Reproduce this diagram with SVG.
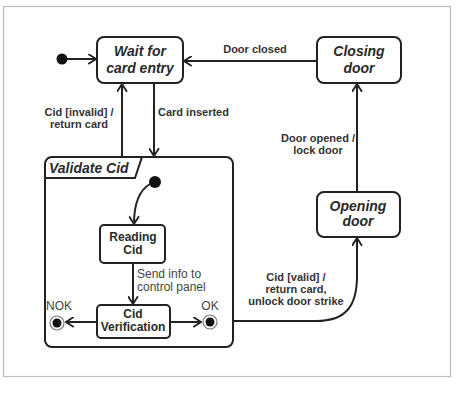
<svg xmlns="http://www.w3.org/2000/svg" width="457" height="400" viewBox="0 0 457 400">
<defs>
<style>
.box{fill:#fff;stroke:#222;stroke-width:2}
.conn{fill:none;stroke:#222;stroke-width:2}
.title{font-family:"Liberation Sans",Arial,sans-serif;font-size:14px;font-weight:bold;font-style:italic;fill:#2a2a2a;text-anchor:middle}
.title-left{font-family:"Liberation Sans",Arial,sans-serif;font-size:14px;font-weight:bold;font-style:italic;fill:#2a2a2a;text-anchor:start}
.state{font-family:"Liberation Sans",Arial,sans-serif;font-size:12px;font-weight:bold;fill:#2a2a2a;text-anchor:middle}
.lbl{font-family:"Liberation Sans",Arial,sans-serif;font-size:11px;font-weight:bold;fill:#333}
.note{font-family:"Liberation Sans",Arial,sans-serif;font-size:12px;fill:#444}
</style>
<marker id="arr" viewBox="0 0 10 10" refX="9" refY="5" markerWidth="11" markerHeight="11" markerUnits="userSpaceOnUse" orient="auto">
<path d="M2,0.5 L9,5 L2,9.5" fill="none" stroke="#222" stroke-width="1.7"/>
</marker>
</defs>
<rect x="0" y="0" width="457" height="400" fill="#fff"/>
<rect x="3.5" y="6.5" width="447" height="370" fill="#fff" stroke="#bbb" stroke-width="1.2"/>

<g id="connectors">
<line class="conn" x1="66" y1="59" x2="96" y2="59" marker-end="url(#arr)"/>
<line class="conn" x1="317" y1="61" x2="184" y2="61" marker-end="url(#arr)"/>
<line class="conn" x1="154" y1="83" x2="154" y2="156" marker-end="url(#arr)"/>
<line class="conn" x1="122" y1="157" x2="122" y2="84" marker-end="url(#arr)"/>
<line class="conn" x1="357" y1="192" x2="357" y2="84" marker-end="url(#arr)"/>
<path class="conn" d="M232,321 L316,321 C346,321 357,306 357,276 L357,238" marker-end="url(#arr)"/>
<path class="conn" d="M150,184 C138,191 134,205 134,224" marker-end="url(#arr)"/>
<line class="conn" x1="133" y1="263" x2="133" y2="304" marker-end="url(#arr)"/>
<line class="conn" x1="97" y1="322" x2="66" y2="322" marker-end="url(#arr)"/>
<line class="conn" x1="170" y1="322" x2="201" y2="322" marker-end="url(#arr)"/>
</g>

<g id="labels">
<text class="lbl" x="255" y="53" text-anchor="middle">Door closed</text>
<text class="lbl" x="79" y="116" text-anchor="middle">Cid [invalid] /</text>
<text class="lbl" x="79" y="128" text-anchor="middle">return card</text>
<text class="lbl" x="158" y="116">Card inserted</text>
<text class="lbl" x="318" y="142" text-anchor="middle">Door opened /</text>
<text class="lbl" x="318" y="154" text-anchor="middle">lock door</text>
<text class="lbl" x="296" y="281" text-anchor="middle">Cid [valid] /</text>
<text class="lbl" x="296" y="293" text-anchor="middle">return card,</text>
<text class="lbl" x="296" y="305" text-anchor="middle">unlock door strike</text>
<text class="note" x="137" y="278">Send info to</text>
<text class="note" x="137" y="291">control panel</text>
</g>

<g id="start">
<circle cx="62" cy="59" r="5.5" fill="#111"/>
</g>

<g id="wait">
<rect class="box" x="97" y="37" width="86" height="46" rx="7"/>
<text class="title" x="140" y="56">Wait for</text>
<text class="title" x="140" y="73">card entry</text>
</g>

<g id="closing">
<rect class="box" x="317" y="37" width="84" height="46" rx="7"/>
<text class="title" x="359" y="56">Closing</text>
<text class="title" x="359" y="73">door</text>
</g>

<g id="opening">
<rect class="box" x="317" y="192" width="83" height="45" rx="7"/>
<text class="title" x="358" y="211">Opening</text>
<text class="title" x="358" y="226">door</text>
</g>

<g id="validate">
<rect x="45" y="157" width="188" height="190" rx="7" fill="none" stroke="#222" stroke-width="2"/>
<path d="M45,178 L135,178 L142,157" fill="none" stroke="#222" stroke-width="2"/>
<text class="title-left" x="49" y="173">Validate Cid</text>
</g>

<g id="inner-start">
<circle cx="155" cy="182" r="6" fill="#111"/>
</g>

<g id="reading">
<rect class="box" x="100" y="225" width="65" height="38" rx="4"/>
<text class="state" x="133" y="241">Reading</text>
<text class="state" x="133" y="254">Cid</text>
</g>

<g id="verification">
<rect class="box" x="97" y="305" width="73" height="33" rx="4"/>
<text class="state" x="133" y="318">Cid</text>
<text class="state" x="133" y="331">Verification</text>
</g>

<g id="nok">
<circle cx="57" cy="323" r="7" fill="#fff" stroke="#777" stroke-width="1.2"/>
<circle cx="57" cy="323" r="4.5" fill="#111"/>
<text class="note" x="59" y="310" text-anchor="middle">NOK</text>
</g>

<g id="ok">
<circle cx="210" cy="322" r="7" fill="#fff" stroke="#777" stroke-width="1.2"/>
<circle cx="210" cy="322" r="4.5" fill="#111"/>
<text class="note" x="210" y="310" text-anchor="middle">OK</text>
</g>
</svg>
